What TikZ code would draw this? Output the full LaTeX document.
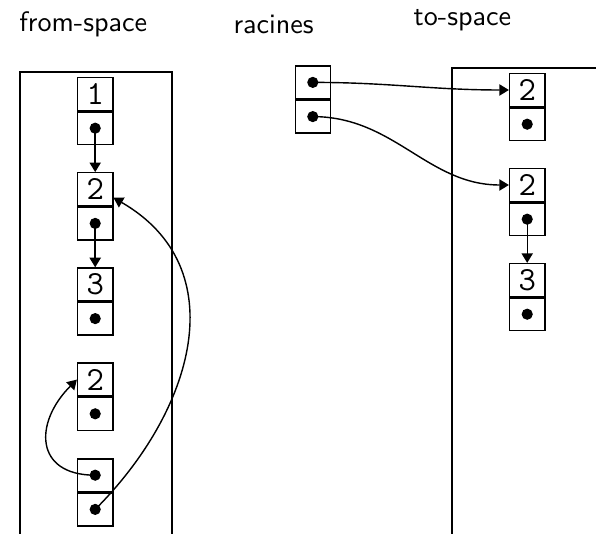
\documentclass[tikz,border=0pt]{standalone}
\usetikzlibrary{positioning,arrows.meta}
\begin{document}
\begin{tikzpicture}[>={Triangle[length=3.4pt,width=4pt]}, line width=0.5pt,
		cell/.style={draw, minimum width=0.44cm, minimum height=0.41cm, inner sep=0pt, font=\ttfamily\large},
		ptdot/.style={circle, fill, inner sep=0pt, minimum size=0.14cm}]
		    \useasboundingbox (0,0) rectangle (7.45,-6.675);
		    \node[font=\sffamily] (fromlbl) at (1.04,-0.31) {from-space};
		    \node[font=\sffamily] (rootlbl) at (3.42,-0.31) {racines};
		    \node[font=\sffamily] (tolbl) at (5.78,-0.25) {to-space};
		    \draw (0.25,-6.675) |- (2.15,-0.9) -- (2.15,-6.675);
		    \draw (5.65,-6.675) |- (7.45,-0.85);

		    % from-space
		    \foreach \i/\v in {1/1,2/2,3/3,4/2} {
		       \node[cell] (fv\i) at (1.19,{-1.175-1.19*(\i-1)}) {\v};
		       \node[cell, below=0pt of fv\i] (fp\i) {};
		       \node[ptdot] (fd\i) at (fp\i) {};
		       }
		    \node[cell] (fp5a) at (1.19,-5.94) {};
		    \node[cell, below=0pt of fp5a] (fp5b) {};
		    \node[ptdot] (fd5a) at (fp5a) {};
		    \node[ptdot] (fd5b) at (fp5b) {};

		    % racines
		    \node[cell] (r1) at (3.91,-1.03) {};
		    \node[cell, below=0pt of r1] (r2) {};
		    \node[ptdot] (rd1) at (r1) {};
		    \node[ptdot] (rd2) at (r2) {};

		    % to-space
		    \foreach \i/\v in {1/2,2/2,3/3} {
		       \node[cell] (tv\i) at (6.59,{-1.125-1.1875*(\i-1)}) {\v};
		       \node[cell, below=0pt of tv\i] (tp\i) {};
		       \node[ptdot] (td\i) at (tp\i) {};
		       }

		    \draw[->] (fd1.center) -- (fv2.north);
		    \draw[->] (fd2.center) -- (fv3.north);
		    \draw[->] (fd5a.center) to[out=180, in=-135, looseness=1.6] (fv4.west);
		    \draw[->] (fd5b.center) to[out=45, in=-30, looseness=1.15] (fv2.-25);
		    \draw[->] (rd1.center) to[out=0, in=180] (tv1.west);
		    \draw[->] (rd2.center) to[out=0, in=180] (tv2.west);
		    \draw[->] (td2.center) -- (tv3.north);
		\end{tikzpicture}
\end{document}
